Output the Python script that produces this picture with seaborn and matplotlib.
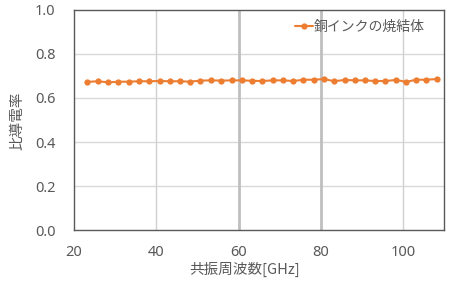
import matplotlib
matplotlib.use("Agg")
import matplotlib.pyplot as plt
import seaborn as sns
import pandas as pd

freq_ghz = [23.2, 25.8, 28.3, 30.8, 33.3, 35.8, 38.3, 40.8, 43.3, 45.8, 48.2, 50.7,
            53.3, 55.8, 58.3, 60.8, 63.3, 65.8, 68.3, 70.9, 73.3, 75.8, 78.3, 80.8,
            83.3, 85.8, 88.3, 90.8, 93.2, 95.7, 98.3, 100.8, 103.2, 105.7, 108.2]
conductivity = [0.673, 0.676, 0.671, 0.674, 0.674, 0.676, 0.676, 0.677, 0.676, 0.676,
                0.674, 0.679, 0.680, 0.679, 0.680, 0.680, 0.678, 0.677, 0.680, 0.680,
                0.677, 0.683, 0.683, 0.686, 0.676, 0.682, 0.680, 0.680, 0.677, 0.677,
                0.682, 0.673, 0.683, 0.683, 0.686]
series_name = "銅インクの焼結体"
x_ticks = [20, 40, 60, 80, 100]
y_ticks = [0.0, 0.2, 0.4, 0.6, 0.8, 1.0]

sns.set_style("white")
plt.rcParams['font.family'] = ['Noto Sans CJK JP', 'DejaVu Sans']

df = pd.DataFrame({"freq": freq_ghz, "val": conductivity, "series": series_name})

fig = plt.figure(figsize=(4.66, 2.84), dpi=100)
ax = fig.add_axes([0.159, 0.190, 0.794, 0.775])

txt = "#595959"
sns.lineplot(data=df, x="freq", y="val", hue="series", palette=["#ED7D31"],
             marker="o", markersize=4.5, markeredgewidth=0, linewidth=1.5, ax=ax)

ax.set_xlim(20, 110)
ax.set_ylim(0, 1.0)
ax.set_xticks(x_ticks)
ax.set_yticks(y_ticks)
ax.set_yticklabels([f"{v:.1f}" for v in y_ticks])

for v in [0.2, 0.4, 0.6, 0.8]:
    ax.axhline(v, color="#d9d9d9", lw=1.0, zorder=0)
for v in x_ticks[1:]:
    if v in (60, 80):
        ax.axvline(v, color="#bfbfbf", lw=2.0, zorder=0)
    else:
        ax.axvline(v, color="#d0d0d0", lw=1.0, zorder=0)

for s in ax.spines.values():
    s.set_color("#595959")
    s.set_linewidth(1.0)
ax.tick_params(axis="both", colors=txt, length=0)
ax.tick_params(axis="y", pad=13.5)
ax.tick_params(axis="x", pad=10.5)
for lab in ax.get_xticklabels() + ax.get_yticklabels():
    lab.set_family(["Noto Sans", "DejaVu Sans"])
    lab.set_fontsize(10.5)

ax.set_xlabel("共振周波数[GHz]", color=txt, fontsize=10.5)
ax.xaxis.set_label_coords(0.462, -0.177, transform=ax.transAxes)
ax.xaxis.label.set_va("center")
ax.set_ylabel("比導電率", color=txt, fontsize=10.5)
ax.yaxis.set_label_coords(-0.153, 0.495, transform=ax.transAxes)
ax.yaxis.label.set_va("center")

leg = ax.legend(loc="upper right", bbox_to_anchor=(0.975, 1.0), frameon=False,
                fontsize=10, handlelength=1.3, handletextpad=0.1, borderaxespad=0.3)
for t in leg.get_texts():
    t.set_color(txt)

fig.savefig("out.png", dpi=100)
